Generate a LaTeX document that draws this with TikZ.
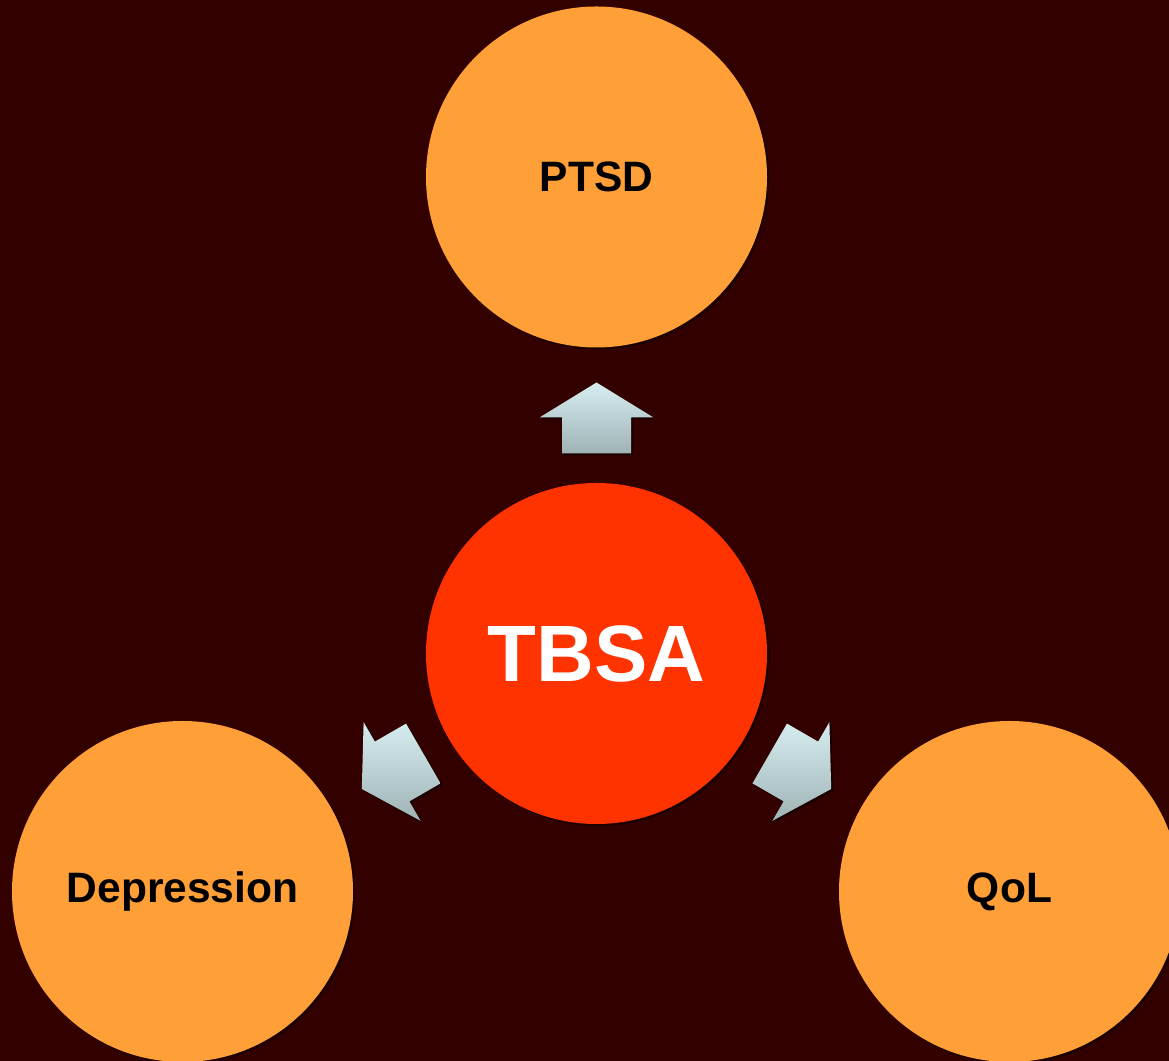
\documentclass[tikz,border=0pt]{standalone}
\usepackage{fontspec}
\setmainfont{Liberation Sans}
\usetikzlibrary{calc,shadows}
\definecolor{bg}{HTML}{330000}
\definecolor{orng}{HTML}{FF9F38}
\definecolor{tbsared}{HTML}{FF3300}
\definecolor{arrtop}{HTML}{D6EDEF}
\definecolor{arrbot}{HTML}{9FB3B5}
\newcommand\blockarrow[2]{%
  \path[arrowshape]
    ($(#1)+(#2:35)$) -- ($(#1)+(#2+90:57)$) -- ($(#1)+(#2+90:34.5)$)
    -- ($(#1)+(#2+90:34.5)+(#2+180:36)$) -- ($(#1)+(#2-90:34.5)+(#2+180:36)$)
    -- ($(#1)+(#2-90:34.5)$) -- ($(#1)+(#2-90:57)$) -- cycle;}
\begin{document}
\begin{tikzpicture}[x=0.2mm,y=0.2mm,
  circ/.style={circle, minimum size=68.2mm, inner sep=0pt,
    drop shadow={shadow xshift=1.2pt, shadow yshift=-1.2pt, opacity=0.45, fill=black}},
  outer/.style={circ, fill=orng, text=black, font=\bfseries\fontsize{24.2}{28}\selectfont},
  center/.style={circ, fill=tbsared, text=white, font=\bfseries\fontsize{45.5}{50}\selectfont},
  arrowshape/.style={top color=arrtop, bottom color=arrbot,
    drop shadow={shadow xshift=1.2pt, shadow yshift=-1.2pt, opacity=0.45, fill=black}}
]
\fill[bg] (0,0) rectangle (1169,1061);
\useasboundingbox (0,0) rectangle (1169,1061);
\clip (0,0) rectangle (1169,1061);
\node[outer] (ptsd) at (596.5,884) {PTSD};
\node[center] (tbsa) at (596.5,407.5) {TBSA};
\node[outer] (dep) at (182.5,169.5) {Depression};
\node[outer] (qol) at (1009.5,169.5) {QoL};
\coordinate (a1) at ($(tbsa.center)+(90:236)$);
\coordinate (a2) at ($(tbsa.center)+(210:236)$);
\coordinate (a3) at ($(tbsa.center)+(-30:236)$);
\blockarrow{a1}{90}
\blockarrow{a2}{210}
\blockarrow{a3}{-30}
\end{tikzpicture}
\end{document}
